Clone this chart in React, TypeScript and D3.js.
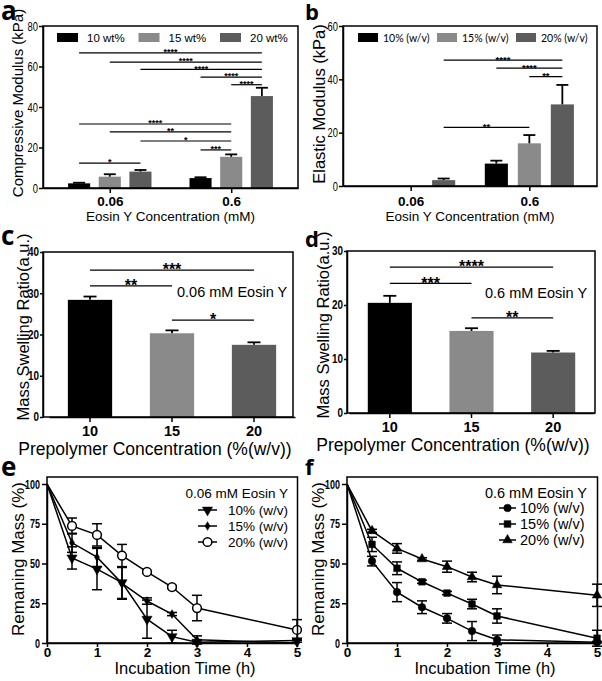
import React, { useEffect, useRef } from 'react'
import * as d3 from 'd3'

const FONT = '"Liberation Sans", Arial, sans-serif'
const barColors = ['#000000', '#8a8a8a', '#5c5c5c']

// panel a - compressive modulus
const concA = ['0.06', '0.6']
const legendA = ['10 wt%', '15 wt%', '20 wt%']
const modulusA = [[2.3, 5.6, 8.1], [4.9, 15.4, 45.4]]
const modulusErrA = [[0.3, 1.2, 0.8], [0.4, 1.2, 4.1]]
const ticksA = [0, 20, 40, 60, 80]
// [fromGroup, fromSeries, toGroup, toSeries, y, label]
const sigA = [
  [0, 0, 1, 2, 66.7, '****'],
  [0, 1, 1, 2, 62.2, '****'],
  [0, 2, 1, 2, 58.6, '****'],
  [1, 0, 1, 2, 54.8, '****'],
  [1, 1, 1, 2, 51.0, '****'],
  [0, 0, 1, 1, 31.6, '****'],
  [0, 1, 1, 1, 27.7, '**'],
  [0, 2, 1, 1, 23.2, '*'],
  [1, 0, 1, 1, 18.8, '***'],
  [0, 0, 0, 2, 12.3, '*'],
]

// panel b - elastic modulus
const concB = ['0.06', '0.6']
const legendB = ['10% (w/v)', '15% (w/v)', '20% (w/v)']
const modulusB = [[0, 0, 2.2], [8.4, 16, 30.6]]
const modulusErrB = [[0, 0, 0.6], [1.1, 3.1, 7.3]]
const ticksB = [0, 20, 40, 60]
const sigB = [
  [0, 2, 1, 2, 47.2, '****'],
  [1, 0, 1, 2, 44.2, '****'],
  [1, 1, 1, 2, 41.0, '**'],
  [0, 2, 1, 1, 22.0, '**'],
]

// panels c, d - swelling ratio
const prepolymer = ['10', '15', '20']
const swellingC = [28.4, 20.3, 17.5]
const swellingErrC = [0.8, 0.7, 0.6]
const ticksC = [0, 10, 20, 30, 40]
const sigC = [[0, 2, 35.6, '***'], [0, 1, 31.8, '**'], [1, 2, 23.5, '*']]
const swellingD = [20.4, 15.2, 11.2]
const swellingErrD = [1.3, 0.5, 0.3]
const ticksD = [0, 10, 20, 30]
const sigD = [[0, 2, 27.0, '****'], [0, 1, 24.0, '***'], [1, 2, 17.6, '**']]

// panels e, f - degradation
const hours = [0, 0.5, 1, 1.5, 2, 2.5, 3, 5]
const hourTicks = [0, 1, 2, 3, 4, 5]
const massTicks = [0, 25, 50, 75, 100]
const seriesNames = ['10% (w/v)', '15% (w/v)', '20% (w/v)']
const massE10 = [100, 53.5, 46.5, 38, 15, 4, 0.5, 1.5]
const errE10 = [0, 7, 13, 10, 12, 4, 1, 1]
const massE15 = [100, 63, 54, 37.5, 26.4, 18.2, 2, 0]
const errE15 = [0, 6, 6, 10, 2, 1, 2.5, 0]
const massE20 = [100, 73.6, 68, 55, 44.7, 35.2, 22, 8.2]
const errE20 = [0, 5, 7, 7, 0.8, 1, 8, 6.5]
const massF10 = [100, 51.5, 32, 22.5, 15.5, 7.5, 2, 0.5]
const errF10 = [0, 3, 6, 4, 3, 6, 3, 0.5]
const massF15 = [100, 62, 47, 38.5, 31.4, 24.5, 17, 3]
const errF15 = [0, 4.5, 4, 1, 1, 3, 4.5, 5]
const massF20 = [100, 70.5, 59.5, 52.8, 48, 41.5, 36.5, 30]
const errF20 = [0, 1, 3, 0.8, 3.5, 3, 5.5, 7]

function styleAxis(g, size, weight) {
  g.attr('font-family', FONT).attr('font-size', size).attr('font-weight', weight)
  g.selectAll('.domain').attr('stroke-width', 1.5)
  g.selectAll('.tick line').attr('stroke-width', 1.5)
  g.selectAll('.tick text').attr('fill', '#000')
}

// the y tick labels in the figure are narrow, squeeze them
function squeeze(g, digitW) {
  g.selectAll('.tick text')
    .attr('textLength', (d) => String(d).length * digitW)
    .attr('lengthAdjust', 'spacingAndGlyphs')
}

function frame(svg, o) {
  svg.append('rect')
    .attr('x', o.left).attr('y', o.top)
    .attr('width', o.right - o.left).attr('height', o.bottom - o.top)
    .attr('fill', 'none').attr('stroke', '#000').attr('stroke-width', 1.5)
}

function text(svg, x, y, str, size, opts = {}) {
  const t = svg.append('text')
    .attr('x', x).attr('y', y)
    .attr('font-family', opts.family || FONT)
    .attr('font-size', size)
    .attr('font-weight', opts.weight || 'normal')
    .attr('text-anchor', opts.anchor || 'start')
    .text(str)
  if (opts.rotate) t.attr('transform', `rotate(-90,${x},${y})`)
  return t
}

function sigBar(svg, x1, x2, yPix, label, fs) {
  svg.append('line')
    .attr('x1', x1).attr('x2', x2).attr('y1', yPix).attr('y2', yPix)
    .attr('stroke', '#000').attr('stroke-width', 1.2)
  text(svg, (x1 + x2) / 2, yPix - 1.5 + fs * 0.42, label, fs, { weight: 'bold', anchor: 'middle' })
}

function errUp(svg, cx, y0, y1, cap) {
  svg.append('line').attr('x1', cx).attr('x2', cx).attr('y1', y0).attr('y2', y1)
    .attr('stroke', '#000').attr('stroke-width', 1.8)
  svg.append('line').attr('x1', cx - cap / 2).attr('x2', cx + cap / 2).attr('y1', y1).attr('y2', y1)
    .attr('stroke', '#000').attr('stroke-width', 1.8)
}

function groupedPanel(svg, o) {
  const y = d3.scaleLinear().domain([0, o.ticks[o.ticks.length - 1]]).range([o.bottom, o.top])
  const x0 = d3.scalePoint().domain(o.groups).range([o.left, o.right]).padding(o.pad)
  const x1 = d3.scaleBand().domain(d3.range(o.legend.length)).range([-o.half, o.half])
    .paddingInner(o.inner).paddingOuter(o.inner / 2)
  const cx = (gi, si) => x0(o.groups[gi]) + x1(si) + x1.bandwidth() / 2

  o.values.forEach((row, gi) => {
    row.forEach((v, si) => {
      svg.append('rect')
        .attr('x', cx(gi, si) - x1.bandwidth() / 2).attr('y', y(v))
        .attr('width', x1.bandwidth()).attr('height', y(0) - y(v))
        .attr('fill', barColors[si])
      if (o.errors[gi][si] > 0) errUp(svg, cx(gi, si), y(v), y(v + o.errors[gi][si]), 12)
    })
  })

  o.sig.forEach(([g1, s1, g2, s2, v, label]) => sigBar(svg, cx(g1, s1), cx(g2, s2), y(v), label, o.starSize))

  frame(svg, o)
  const ay = svg.append('g').attr('transform', `translate(${o.left},0)`)
    .call(d3.axisLeft(y).tickValues(o.ticks).tickSize(4).tickPadding(1).tickSizeOuter(0))
  styleAxis(ay, 12.5, 'normal')
  squeeze(ay, 5.2)
  const ax = svg.append('g').attr('transform', `translate(0,${o.bottom})`)
    .call(d3.axisBottom(x0).tickSize(5).tickPadding(o.xPad).tickSizeOuter(0))
  styleAxis(ax, 13.5, 'bold')

  // legend
  o.legend.forEach((name, i) => {
    const lx = o.legendX + i * o.legendStep
    svg.append('rect').attr('x', lx).attr('y', o.top + 7).attr('width', o.swatch).attr('height', 9)
      .attr('fill', barColors[i])
    text(svg, lx + o.swatch + o.legendGap, o.top + 15.5, name, o.legendSize, { family: o.legendFont })
  })

  text(svg, (o.left + o.right) / 2, o.xTitleY, o.xTitle, 13.5, { anchor: 'middle' })
  text(svg, o.yTitleX, o.yTitleY, o.yTitle, o.yTitleSize, { anchor: 'middle', rotate: true })
  text(svg, o.letterX, o.letterY, o.letter, o.letterSize, { family: '"Open Sans", sans-serif', weight: 'bold' })
}

function simplePanel(svg, o) {
  const y = d3.scaleLinear().domain([0, o.ticks[o.ticks.length - 1]]).range([o.bottom, o.top])
  const x = d3.scaleBand().domain(prepolymer).range(o.band).paddingInner(0.46).paddingOuter(0.23)
  const cx = (i) => x(prepolymer[i]) + x.bandwidth() / 2

  o.values.forEach((v, i) => {
    svg.append('rect')
      .attr('x', x(prepolymer[i])).attr('y', y(v))
      .attr('width', x.bandwidth()).attr('height', y(0) - y(v))
      .attr('fill', barColors[i])
    errUp(svg, cx(i), y(v), y(v + o.errors[i]), 13)
  })

  o.sig.forEach(([a, b, v, label]) => sigBar(svg, cx(a), cx(b), y(v), label, 16))

  frame(svg, o)
  const ay = svg.append('g').attr('transform', `translate(${o.left},0)`)
    .call(d3.axisLeft(y).tickValues(o.ticks).tickSize(3).tickPadding(1).tickSizeOuter(0))
  styleAxis(ay, 12, 'bold')
  squeeze(ay, 5.5)
  const ax = svg.append('g').attr('transform', `translate(0,${o.bottom})`)
    .call(d3.axisBottom(x).tickSize(5).tickPadding(4).tickSizeOuter(0))
  styleAxis(ax, 14.5, 'bold')

  text(svg, o.noteX, o.noteY, o.note, 14.5)
  text(svg, o.xTitleX, o.bottom + 38, 'Prepolymer Concentration (%(w/v))', 17.5, { anchor: 'middle' })
  text(svg, o.yTitleX, o.yTitleY, 'Mass Swelling Ratio(a.u.)', 16.5, { anchor: 'middle', rotate: true })
  text(svg, o.letterX, o.letterY, o.letter, o.letterSize, { family: '"Open Sans", sans-serif', weight: 'bold' })
}

function linePanel(svg, o) {
  const x = d3.scaleLinear().domain([0, 5]).range([o.left, o.right])
  const y = d3.scaleLinear().domain([0, 100]).range([o.bottom, o.bottom - 159])
  const pathLine = d3.line().x((d) => x(d[0])).y((d) => y(d[1]))

  o.series.forEach((s) => {
    const pts = hours.map((h, i) => [h, s.values[i]])
    svg.append('path').datum(pts)
      .attr('fill', 'none').attr('stroke', '#000').attr('stroke-width', 1.5)
      .attr('d', pathLine)
    hours.forEach((h, i) => {
      const e = s.errors[i]
      if (e <= 0) return
      const px = x(h)
      svg.append('line').attr('x1', px).attr('x2', px)
        .attr('y1', y(s.values[i] - e)).attr('y2', y(s.values[i] + e))
        .attr('stroke', '#000').attr('stroke-width', 1.5)
      ;[s.values[i] - e, s.values[i] + e].forEach((v) => {
        svg.append('line').attr('x1', px - 5).attr('x2', px + 5).attr('y1', y(v)).attr('y2', y(v))
          .attr('stroke', '#000').attr('stroke-width', 1.5)
      })
    })
  })

  const marker = (s, px, py) => {
    svg.append('path')
      .attr('d', d3.symbol().type(s.symbol).size(s.size)())
      .attr('transform', `translate(${px},${py}) rotate(${s.rotate || 0})`)
      .attr('fill', s.open ? '#fff' : '#000')
      .attr('stroke', '#000').attr('stroke-width', s.open ? 1.5 : 0.5)
  }
  o.series.forEach((s) => {
    hours.forEach((h, i) => { if (i > 0) marker(s, x(h), y(s.values[i])) })
  })

  frame(svg, { left: o.left, right: o.right + 0.5, top: o.bottom - 166, bottom: o.bottom })
  const ay = svg.append('g').attr('transform', `translate(${o.left},0)`)
    .call(d3.axisLeft(y).tickValues(massTicks).tickSize(5).tickPadding(2).tickSizeOuter(0))
  styleAxis(ay, 12.5, 'bold')
  squeeze(ay, 5)
  const ax = svg.append('g').attr('transform', `translate(0,${o.bottom})`)
    .call(d3.axisBottom(x).tickValues(hourTicks).tickFormat(d3.format('d'))
      .tickSize(4).tickPadding(0).tickSizeOuter(0))
  styleAxis(ax, 13.5, 'bold')

  // legend
  text(svg, o.legendRight, o.bottom - 145, o.note, o.noteSize, { anchor: 'end' })
  o.series.forEach((s, i) => {
    const ly = o.legendRows[i]
    svg.append('line').attr('x1', o.legendLine[0]).attr('x2', o.legendLine[1])
      .attr('y1', ly - 5).attr('y2', ly - 5).attr('stroke', '#000').attr('stroke-width', 1.5)
    marker(s, (o.legendLine[0] + o.legendLine[1]) / 2, ly - 5)
    text(svg, o.legendText, ly, seriesNames[i], o.noteSize)
  })

  text(svg, (o.left + o.right) / 2 + 13, o.bottom + 30.5, 'Incubation Time (h)', 16.5, { anchor: 'middle' })
  text(svg, o.yTitleX, o.bottom - 84, 'Remaning Mass (%)', 17, { anchor: 'middle', rotate: true })
  text(svg, o.letterX, o.letterY, o.letter, o.letterSize, { family: '"Open Sans", sans-serif', weight: 'bold' })
}

export default function App() {
  const ref = useRef(null)

  useEffect(() => {
    const svg = d3.select(ref.current)
    svg.selectAll('*').remove()

    groupedPanel(svg, {
      left: 43, right: 298, top: 26, bottom: 188, ticks: ticksA,
      groups: concA, legend: legendA, values: modulusA, errors: modulusErrA, sig: sigA,
      pad: 0.55, half: 46, inner: 0.28, starSize: 9, xPad: 3,
      legendX: 57, legendStep: 81.5, swatch: 21, legendGap: 9, legendSize: 11.5, legendFont: FONT,
      xTitle: 'Eosin Y Concentration (mM)', xTitleY: 221, yTitle: 'Compressive Modulus (kPa)',
      yTitleX: 23, yTitleY: 103, yTitleSize: 15,
      letter: 'a', letterX: 1, letterY: 20, letterSize: 26,
    })
    groupedPanel(svg, {
      left: 343, right: 597, top: 26, bottom: 186, ticks: ticksB,
      groups: concB, legend: legendB, values: modulusB, errors: modulusErrB, sig: sigB,
      pad: 0.57, half: 49.5, inner: 0.3, starSize: 9.5, xPad: 5,
      legendX: 358, legendStep: 79, swatch: 20, legendGap: 5, legendSize: 10.5, legendFont: 'Lato, sans-serif',
      xTitle: 'Eosin Y Concentration (mM)', xTitleY: 221, yTitle: 'Elastic Modulus (kPa)',
      yTitleX: 325, yTitleY: 104, yTitleSize: 16.5,
      letter: 'b', letterX: 305, letterY: 20, letterSize: 22,
    })
    simplePanel(svg, {
      left: 43, right: 293, top: 252, bottom: 417, ticks: ticksC, band: [49, 295],
      values: swellingC, errors: swellingErrC, sig: sigC,
      note: '0.06 mM Eosin Y', noteX: 177, noteY: 297, xTitleX: 155, yTitleX: 29, yTitleY: 327,
      letter: 'c', letterX: 1, letterY: 245, letterSize: 26,
    })
    simplePanel(svg, {
      left: 347, right: 595, top: 251, bottom: 413, ticks: ticksD, band: [349, 594],
      values: swellingD, errors: swellingErrD, sig: sigD,
      note: '0.6 mM Eosin Y', noteX: 485, noteY: 298, xTitleX: 453, yTitleX: 329, yTitleY: 325,
      letter: 'd', letterX: 305, letterY: 247, letterSize: 22,
    })
    linePanel(svg, {
      left: 47, right: 297, bottom: 643,
      series: [
        { values: massE10, errors: errE10, symbol: d3.symbolTriangle, size: 45, rotate: 180 },
        { values: massE15, errors: errE15, symbol: d3.symbolDiamond, size: 22 },
        { values: massE20, errors: errE20, symbol: d3.symbolCircle, size: 60, open: true },
      ],
      note: '0.06 mM Eosin Y', noteSize: 13.5, legendRight: 288,
      legendLine: [198, 217], legendText: 228, legendRows: [515, 531, 547],
      yTitleX: 24, letter: 'e', letterX: 1, letterY: 476, letterSize: 26,
    })
    linePanel(svg, {
      left: 347, right: 597, bottom: 643,
      series: [
        { values: massF10, errors: errF10, symbol: d3.symbolCircle, size: 45 },
        { values: massF15, errors: errF15, symbol: d3.symbolSquare, size: 45 },
        { values: massF20, errors: errF20, symbol: d3.symbolTriangle, size: 40 },
      ],
      note: '0.6 mM Eosin Y', noteSize: 14.5, legendRight: 587,
      legendLine: [499, 516], legendText: 520, legendRows: [513, 529, 545],
      yTitleX: 324, letter: 'f', letterX: 305, letterY: 475, letterSize: 22,
    })
  }, [])

  return (
    <svg ref={ref} width={602} height={681}
      style={{ position: 'absolute', left: 0, top: 0, background: '#fff' }} />
  )
}
